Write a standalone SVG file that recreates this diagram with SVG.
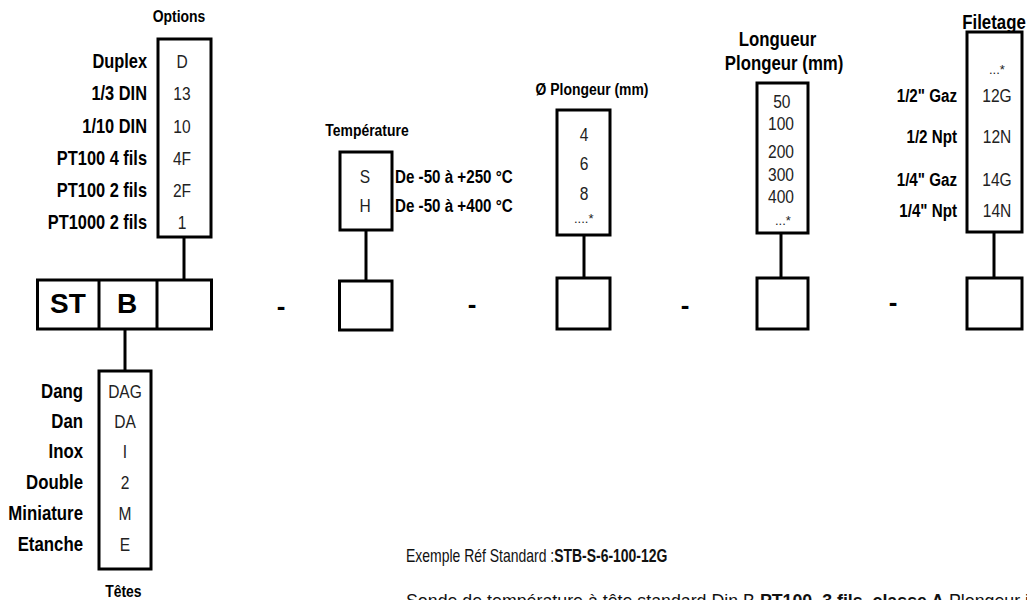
<svg xmlns="http://www.w3.org/2000/svg" width="1027" height="600" viewBox="0 0 1027 600">
<style>
.bx{fill:#fff;stroke:#000;stroke-width:3}
.cn{stroke:#000;stroke-width:3;fill:none}
text{font-family:"Liberation Sans",Arial,sans-serif}
.lbl{font-weight:bold;font-size:20px;text-anchor:end;fill:#000}
.tlbl{font-weight:bold;font-size:20.5px;text-anchor:end;fill:#000}
.flbl{font-weight:bold;font-size:18.5px;text-anchor:end;fill:#000}
.val{font-size:19px;text-anchor:middle;fill:#222}
.ttl{font-weight:bold;font-size:17px;text-anchor:middle;fill:#000}
.ttl2{font-weight:bold;font-size:20.5px;text-anchor:middle;fill:#000}
.rng{font-weight:bold;font-size:18.5px;fill:#000}
.big{font-weight:bold;font-size:28px;text-anchor:middle;fill:#000}
.dash{font-weight:bold;font-size:26px;text-anchor:middle;fill:#000}
.dots{font-size:13px;fill:#222}
.txt{font-size:18.5px;fill:#111}
.txt2{font-size:17.8px;fill:#111}
</style>

<g id="connectors">
<line class="cn" x1="184" y1="237" x2="184" y2="280"/>
<line class="cn" x1="125" y1="329" x2="125" y2="371"/>
<line class="cn" x1="366" y1="230" x2="366" y2="281"/>
<line class="cn" x1="584" y1="235" x2="584" y2="278"/>
<line class="cn" x1="781" y1="233" x2="781" y2="278"/>
<line class="cn" x1="994" y1="232" x2="994" y2="278"/>
</g>

<g id="code-bar">
<rect class="bx" x="37.5" y="280" width="174" height="49"/>
<line class="cn" x1="99" y1="280" x2="99" y2="329"/>
<line class="cn" x1="157" y1="280" x2="157" y2="329"/>
<text class="big" x="68" y="313">ST</text>
<text class="big" x="127" y="313">B</text>
</g>

<g id="options">
<rect class="bx" x="158" y="39" width="53" height="198"/>
<g transform="translate(179,0) scale(0.82,1)"><text class="ttl" x="0" y="22">Options</text></g>
<g transform="translate(147,0) scale(0.82,1)">
<text class="lbl" x="0" y="68">Duplex</text>
<text class="lbl" x="0" y="100">1/3 DIN</text>
<text class="lbl" x="0" y="133">1/10 DIN</text>
<text class="lbl" x="0" y="165">PT100 4 fils</text>
<text class="lbl" x="0" y="197">PT100 2 fils</text>
<text class="lbl" x="0" y="229">PT1000 2 fils</text>
</g>
<g transform="translate(182,0) scale(0.82,1)">
<text class="val" x="0" y="68">D</text>
<text class="val" x="0" y="100">13</text>
<text class="val" x="0" y="133">10</text>
<text class="val" x="0" y="165">4F</text>
<text class="val" x="0" y="197">2F</text>
<text class="val" x="0" y="229">1</text>
</g>
</g>

<g id="tetes">
<rect class="bx" x="99" y="371" width="52" height="198"/>
<g transform="translate(83,0) scale(0.82,1)">
<text class="tlbl" x="0" y="398">Dang</text>
<text class="tlbl" x="0" y="428">Dan</text>
<text class="tlbl" x="0" y="458">Inox</text>
<text class="tlbl" x="0" y="489">Double</text>
<text class="tlbl" x="0" y="520">Miniature</text>
<text class="tlbl" x="0" y="551">Etanche</text>
</g>
<g transform="translate(125,0) scale(0.82,1)">
<text class="val" x="0" y="398">DAG</text>
<text class="val" x="0" y="428">DA</text>
<text class="val" x="0" y="458">I</text>
<text class="val" x="0" y="489">2</text>
<text class="val" x="0" y="520">M</text>
<text class="val" x="0" y="551">E</text>
<text class="ttl" x="-2" y="597">Têtes</text>
</g>
</g>

<g id="temperature">
<rect class="bx" x="340" y="152" width="52" height="78"/>
<g transform="translate(367,0) scale(0.82,1)"><text class="ttl" x="0" y="136">Température</text></g>
<g transform="translate(365,0) scale(0.82,1)">
<text class="val" x="0" y="183">S</text>
<text class="val" x="0" y="212">H</text>
</g>
<g transform="translate(395,0) scale(0.82,1)">
<text class="rng" x="0" y="183">De -50 à +250 °C</text>
<text class="rng" x="0" y="212">De -50 à +400 °C</text>
</g>
</g>
<g id="temperature-slot"><rect class="bx" x="339.5" y="281" width="52.5" height="49"/></g>

<g id="diametre">
<rect class="bx" x="557" y="110" width="53" height="125"/>
<g transform="translate(592,0) scale(0.82,1)"><text class="ttl" x="0" y="95">Ø Plongeur (mm)</text></g>
<g transform="translate(584,0) scale(0.82,1)">
<text class="val" x="0" y="141">4</text>
<text class="val" x="0" y="170">6</text>
<text class="val" x="0" y="200">8</text>
</g>
<text class="dots" x="574" y="223">....*</text>
</g>
<g id="diametre-slot"><rect class="bx" x="557" y="278" width="53" height="51"/></g>

<g id="longueur">
<rect class="bx" x="757" y="83" width="51" height="150"/>
<g transform="translate(780,0) scale(0.82,1)">
<text class="ttl2" x="-3" y="46">Longueur</text>
<text class="ttl2" x="5" y="70">Plongeur (mm)</text>
</g>
<g transform="translate(781,0) scale(0.82,1)">
<text class="val" x="1" y="108">50</text>
<text class="val" x="0" y="130">100</text>
<text class="val" x="0" y="158">200</text>
<text class="val" x="0" y="181">300</text>
<text class="val" x="0" y="203">400</text>
</g>
<text class="dots" x="775" y="225">...*</text>
</g>
<g id="longueur-slot"><rect class="bx" x="757" y="278" width="51" height="51"/></g>

<g id="filetage">
<rect class="bx" x="967" y="32" width="55" height="200"/>
<g transform="translate(994,0) scale(0.82,1)"><text class="ttl2" x="0" y="29">Filetage</text></g>
<text class="dots" x="989" y="74">...*</text>
<g transform="translate(957,0) scale(0.82,1)">
<text class="flbl" x="0" y="102">1/2" Gaz</text>
<text class="flbl" x="0" y="143">1/2 Npt</text>
<text class="flbl" x="0" y="186">1/4" Gaz</text>
<text class="flbl" x="0" y="217">1/4" Npt</text>
</g>
<g transform="translate(997,0) scale(0.82,1)">
<text class="val" x="0" y="102">12G</text>
<text class="val" x="0" y="143">12N</text>
<text class="val" x="0" y="186">14G</text>
<text class="val" x="0" y="217">14N</text>
</g>
</g>
<g id="filetage-slot"><rect class="bx" x="967" y="278" width="55" height="51"/></g>

<g id="separators">
<text class="dash" x="281" y="315">-</text>
<text class="dash" x="472" y="313">-</text>
<text class="dash" x="685" y="314">-</text>
<text class="dash" x="893" y="311">-</text>
</g>

<g id="example">
<g transform="translate(406,0) scale(0.755,1)">
<text class="txt" x="0" y="562">Exemple Réf Standard :<tspan font-weight="bold">STB-S-6-100-12G</tspan></text>
</g>
<text class="txt2" x="406" y="607">Sonde de température à tête standard Din B <tspan font-weight="bold">PT100, 3 fils, classe A</tspan> Plongeur inox</text>
</g>
</svg>
